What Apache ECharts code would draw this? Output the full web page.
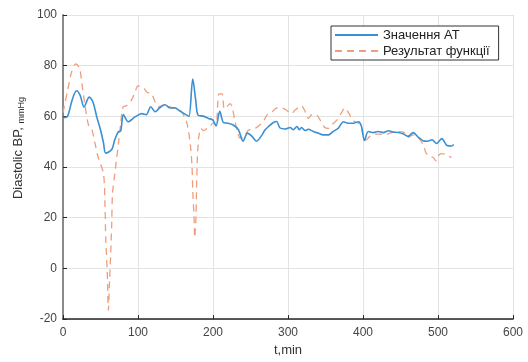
<!DOCTYPE html>
<html>
<head>
<meta charset="utf-8">
<script src="https://cdn.jsdelivr.net/npm/echarts@6/dist/echarts.min.js"></script>
<style>
  html, body { margin: 0; padding: 0; background: #fff; }
  #chart { width: 528px; height: 362px; }
</style>
</head>
<body>
<div id="chart"></div>
<script>
// час, хв
const bpTime = [0, 6, 12, 18, 23, 28, 35, 40, 45, 50, 54, 57, 65, 69, 74, 77, 80.5, 87, 96, 105,
  111, 117, 123, 129, 136, 143, 149, 156, 165, 168, 173, 177, 180, 187, 194, 200, 204, 209, 214, 220,
  227, 234, 240, 246, 252, 258, 265, 269, 274, 280, 285, 289, 296, 303, 307, 312, 315, 318, 323, 327,
  334, 340, 347, 354, 360, 367, 374, 380, 387, 394, 398, 402, 407, 414, 420, 427, 434, 440, 447, 454,
  460, 467, 474, 480, 486, 492, 498, 505, 512, 518, 521];
const bpValue = [59.5, 60, 66.3, 70.1, 68.2, 63.7, 67.6, 65.6, 59.8, 54.7, 49.5, 45.5, 46.9, 50.8, 54, 54.3, 60.7, 57.9, 59.8, 61.1,
  60.7, 63.8, 61.8, 63.4, 64.6, 63.3, 63.4, 62.1, 60.5, 60, 74.7, 66.3, 60.5, 60.1, 59.2, 58.5, 56.2, 62, 57.5, 57.3,
  56.6, 54.7, 50.2, 53.4, 52.1, 50.2, 52.5, 54.5, 56, 57.5, 58, 55.5, 55, 55.6, 54.7, 56, 54.7, 55.6, 54.4, 54.9,
  54, 53.4, 52.7, 52.7, 54, 55.3, 57.9, 57.3, 57.3, 57.9, 56, 50.5, 54, 53.6, 54, 53.6, 54.3, 53.8, 53.6, 53,
  52.1, 53.6, 51.7, 50.4, 50.2, 50.8, 49.3, 51.2, 48.5, 48.3, 48.9];

const fnTime = [0, 6, 11, 17, 22, 25, 29, 34, 38, 43, 47, 54, 56, 57, 59, 60.5, 62, 63.5, 65, 66,
  69, 71, 74, 77, 80, 85, 91, 96, 100, 107, 112, 118, 123, 127, 136, 143, 152, 158, 164, 167,
  170, 172, 173, 174.7, 175.6, 177.3, 178, 179, 180, 181, 184, 187, 192, 196, 200, 204, 208, 212, 215, 218,
  223, 226, 229, 232, 236, 240, 247, 254, 260, 267, 272, 278, 285, 292, 298, 305, 309, 318, 323, 327,
  332, 338, 343, 349, 354, 358, 365, 372, 376, 380, 385, 389, 396, 400, 404, 409, 416, 423, 429, 436,
  445, 454, 460, 467, 474, 480, 484, 488, 494, 497, 500, 505, 510, 518];
const fnValue = [61.5, 70, 77, 80.7, 79, 73.4, 65, 56.6, 55.3, 48.9, 43.7, 37.3, 24.4, 11.6, -1.4, -16.5, -5.3, 5, 17.9, 29.5,
  37.3, 42, 49.5, 57.3, 63.7, 64.3, 66.3, 69.5, 72, 71.4, 69.5, 68.9, 65.6, 63.7, 64.7, 63.7, 63, 61.8, 58.5, 54.7,
  48.2, 40.5, 30.8, 20.5, 12.1, 19.8, 30.8, 42.4, 48, 52, 55.3, 54.4, 55.3, 56, 57.3, 56.6, 68.9, 68.9, 63, 63.7,
  65, 63, 58.5, 54.7, 51.5, 51.5, 54.5, 55, 56, 58, 60.5, 61.5, 63.3, 63.3, 62.4, 61.1, 62.4, 64.1, 61.8, 59.2,
  60.7, 60.5, 58.5, 55.6, 55.3, 56.6, 58.5, 61.8, 63.3, 61.8, 59.2, 57.9, 57, 53, 50.6, 52.1, 53, 53, 52.7, 53.4,
  54, 53.8, 51.7, 52.7, 51.5, 48.9, 45.6, 44.4, 43.7, 42.4, 44.4, 45.3, 45, 43.7];

const xTicks = { min: 0, max: 600, step: 100 };
const yTicks = { min: -20, max: 100, step: 20 };

const chart = echarts.init(document.getElementById('chart'));
const font = 'Liberation Sans, Arial, sans-serif';

chart.setOption({
  animation: false,
  backgroundColor: '#fff',
  textStyle: { fontFamily: font },
  grid: { left: 63, right: 15, top: 15, bottom: 37 },
  legend: {
    left: 331,
    top: 26,
    orient: 'vertical',
    backgroundColor: '#fff',
    borderColor: '#333',
    borderWidth: 1,
    borderRadius: 0,
    padding: [2, 9, 2, 3],
    itemWidth: 43,
    itemHeight: 14,
    itemGap: 2,
    itemStyle: { opacity: 0 },
    textStyle: { fontSize: 13, color: '#222', fontFamily: font, lineHeight: 14 },
    data: ['Значення АТ', 'Результат функції']
  },
  xAxis: {
    type: 'value',
    min: xTicks.min,
    max: xTicks.max,
    interval: xTicks.step,
    name: 't,min',
    nameLocation: 'middle',
    nameGap: 22,
    nameTextStyle: { fontSize: 13, color: '#333' },
    axisLine: { show: true, onZero: false, lineStyle: { color: '#262626', width: 1.5 } },
    axisTick: { show: true, inside: true, length: 4, lineStyle: { color: '#262626' } },
    axisLabel: { fontSize: 12, color: '#444', margin: 8 },
    splitLine: { show: true, lineStyle: { color: '#e3e3e3', width: 1 } }
  },
  yAxis: {
    type: 'value',
    min: yTicks.min,
    max: yTicks.max,
    interval: yTicks.step,
    name: '{a|Diastolic BP, }{b|mmHg}',
    nameLocation: 'middle',
    nameGap: 34,
    nameRotate: 90,
    nameTextStyle: {
      color: '#333',
      padding: [0, 0, 0, 38],
      rich: {
        a: { fontSize: 13, color: '#333', fontFamily: font },
        b: { fontSize: 9, color: '#333', fontFamily: font, padding: [6, 0, 0, 0] }
      }
    },
    axisLine: { show: true, onZero: false, lineStyle: { color: '#8a8a8a', width: 2 } },
    axisTick: { show: true, inside: true, length: 4, lineStyle: { color: '#262626' } },
    axisLabel: { fontSize: 12, color: '#444', margin: 6 },
    splitLine: { show: true, lineStyle: { color: '#e3e3e3', width: 1 } }
  },
  series: [
    {
      name: 'Значення АТ',
      type: 'line',
      showSymbol: false,
      symbol: 'none',
      smooth: 0.3,
      data: bpTime.map((t, i) => [t, bpValue[i]]),
      lineStyle: { color: '#3b8fd3', width: 1.6 },
      itemStyle: { color: '#3b8fd3' },
      z: 3
    },
    {
      name: 'Результат функції',
      type: 'line',
      showSymbol: false,
      symbol: 'none',
      smooth: 0.3,
      data: fnTime.map((t, i) => [t, fnValue[i]]),
      lineStyle: { color: '#ee9e7d', width: 1.3, type: [7, 5] },
      itemStyle: { color: '#ee9e7d' },
      z: 2
    }
  ]
});
</script>
</body>
</html>
